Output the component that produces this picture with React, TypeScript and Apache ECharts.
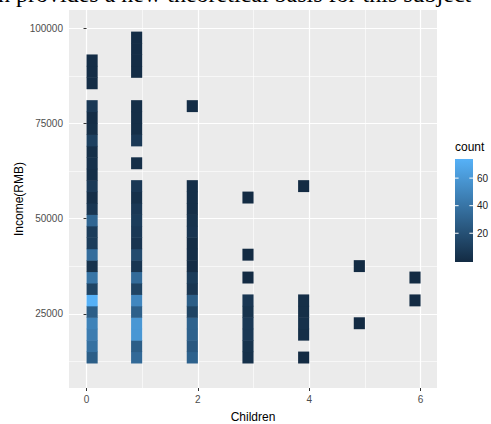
import React, { useEffect, useRef } from "react";
import * as echarts from "echarts";

// ---- data ----
const childrenValues = [0, 1, 2, 3, 4, 5, 6];
// counts per income bin (bin 0 = 12000–15000, each bin 3000 wide), bottom to top
const countsChild0 = [28, 38, 44, 47, 28, 72, 14, 40, 5, 36, 10, 10, 32, 7, 3, 9, 3, 4, 3, 12, 3, 2, 8, 0, 2, 2, 2, 0, 0];
const countsChild1 = [34, 28, 58, 58, 29, 50, 14, 35, 7, 18, 6, 8, 10, 8, 4, 8, 0, 3, 0, 8, 3, 3, 3, 0, 0, 2, 2, 2, 2];
const countsChild2 = [30, 25, 30, 30, 14, 28, 7, 10, 2, 3, 2, 6, 5, 3, 3, 3, 0, 0, 0, 0, 0, 0, 2];
const countsChild3 = [4, 5, 8, 8, 5, 7, 0, 1, 0, 1, 0, 0, 0, 0, 1];
const countsChild4 = [1, 0, 3, 4, 3, 3, 0, 0, 0, 0, 0, 0, 0, 0, 0, 1];
const countsChild5 = [0, 0, 0, 1, 0, 0, 0, 0, 1];
const countsChild6 = [0, 0, 0, 0, 0, 1, 0, 1];
const allCounts = [countsChild0, countsChild1, countsChild2, countsChild3, countsChild4, countsChild5, countsChild6];

const xTicks = [0, 2, 4, 6];
const xMinor = [1, 3, 5];
const yTicks = [25000, 50000, 75000, 100000];
const yMinor = [12500, 37500, 62500, 87500];
const legendTicks = [20, 40, 60];
const countMin = 1;
const countMax = 72;

const X_BIN_W = 0.2;
const Y_BIN_START = 12000;
const Y_BIN_W = 3000;

const topText = "h provides a new theoretical basis for this subject";

export default function App() {
  const ref = useRef<HTMLDivElement>(null);
  useEffect(() => {
    if (!ref.current) return;
    const chart = echarts.init(ref.current, null, { renderer: "svg" });
    const cells: number[][] = [];
    childrenValues.forEach((c, ci) => {
      allCounts[ci].forEach((n, k) => {
        if (n > 0) cells.push([c, k, n]);
      });
    });

    const barX = 455, barY = 159, barW = 18, barH = 103;
    const legendY = (v: number) =>
      barY + barH - (0.025 + (0.95 * (v - countMin)) / (countMax - countMin)) * barH;

    const font = "Liberation Sans, Arial, sans-serif";
    const graphics: any[] = [
      {
        type: "text",
        left: -2,
        top: -18,
        style: { text: topText, font: "24px 'Liberation Serif', 'Times New Roman', serif", fill: "#000" },
      },
      {
        type: "text",
        x: barX,
        y: 147,
        style: { text: "count", fontSize: 12, fontFamily: font, fill: "#000", verticalAlign: "middle" },
      },
      {
        type: "rect",
        shape: { x: barX, y: barY, width: barW, height: barH },
        style: {
          fill: new echarts.graphic.LinearGradient(0, 0, 0, 1, [
            { offset: 0, color: "#56B1F7" },
            { offset: 1, color: "#132B43" },
          ]),
        },
      },
    ];
    legendTicks.forEach((t) => {
      const y = legendY(t);
      graphics.push({
        type: "line",
        shape: { x1: barX, y1: y, x2: barX + 3.6, y2: y },
        style: { stroke: "#fff", lineWidth: 1 },
      });
      graphics.push({
        type: "line",
        shape: { x1: barX + barW - 3.6, y1: y, x2: barX + barW, y2: y },
        style: { stroke: "#fff", lineWidth: 1 },
      });
      graphics.push({
        type: "text",
        x: barX + barW + 4,
        y,
        style: { text: String(t), fontSize: 10, fontFamily: font, fill: "#222", verticalAlign: "middle" },
      });
    });

    const xMin = -0.315, xMax = 6.295, yMin = 5565, yMax = 104804;

    chart.setOption({
      animation: false,
      backgroundColor: "#fff",
      grid: {
        left: 69,
        top: 10,
        width: 368,
        height: 378,
        show: true,
        backgroundColor: "#EBEBEB",
        borderWidth: 0,
        containLabel: false,
        outerBoundsMode: "none",
      },
      xAxis: [
        {
          type: "value",
          min: xMin,
          max: xMax,
          axisLine: { show: false },
          axisTick: { show: true, length: 3, lineStyle: { color: "#333", width: 1 }, customValues: xTicks },
          axisLabel: { customValues: xTicks, color: "#4D4D4D", fontSize: 10, fontFamily: font, margin: 6 },
          splitLine: { show: true, lineStyle: { color: "#fff", width: 1.2 } },
          name: "Children",
          nameLocation: "middle",
          nameGap: 23,
          nameTextStyle: { color: "#000", fontSize: 12, fontFamily: font },
        },
        {
          type: "value",
          min: xMin,
          max: xMax,
          position: "bottom",
          axisLine: { show: false },
          axisTick: { show: false, customValues: xMinor },
          axisLabel: { show: false, customValues: xMinor },
          splitLine: { show: true, lineStyle: { color: "#fff", width: 0.6 } },
        },
      ],
      yAxis: [
        {
          type: "value",
          min: yMin,
          max: yMax,
          axisLine: { show: false },
          axisTick: { show: true, length: 3, lineStyle: { color: "#333", width: 1 }, customValues: yTicks },
          axisLabel: {
            customValues: yTicks,
            color: "#4D4D4D",
            fontSize: 10,
            fontFamily: font,
            margin: 6,
            formatter: (v: number) => String(v),
          },
          splitLine: { show: true, lineStyle: { color: "#fff", width: 1.2 } },
          name: "Income(RMB)",
          nameLocation: "middle",
          nameRotate: 90,
          nameGap: 44,
          nameMoveOverlap: false,
          nameTextStyle: { color: "#000", fontSize: 12, fontFamily: font },
        },
        {
          type: "value",
          min: yMin,
          max: yMax,
          position: "left",
          axisLine: { show: false },
          axisTick: { show: false, customValues: yMinor },
          axisLabel: { show: false, customValues: yMinor },
          splitLine: { show: true, lineStyle: { color: "#fff", width: 0.6 } },
        },
      ],
      visualMap: {
        show: false,
        type: "continuous",
        dimension: 2,
        min: countMin,
        max: countMax,
        seriesIndex: 0,
        inRange: { color: ["#132B43", "#56B1F7"] },
      },
      series: [
        {
          type: "custom",
          xAxisIndex: 0,
          yAxisIndex: 0,
          encode: { x: 0, y: 1 },
          data: cells,
          renderItem: (params: any, api: any) => {
            const c = api.value(0);
            const k = api.value(1);
            const x0 = c === 0 ? 0 : c - X_BIN_W;
            const x1 = x0 + X_BIN_W;
            const y0 = Y_BIN_START + k * Y_BIN_W;
            const y1 = y0 + Y_BIN_W;
            const p0 = api.coord([x0, y1]);
            const p1 = api.coord([x1, y0]);
            const color = api.visual("color");
            return {
              type: "rect",
              shape: { x: p0[0], y: p0[1] - 0.5, width: p1[0] - p0[0], height: p1[1] - p0[1] + 0.5 },
              style: { fill: color, stroke: null, lineWidth: 0 },
            };
          },
        },
      ],
      graphic: graphics,
    });
    return () => chart.dispose();
  }, []);
  return <div ref={ref} style={{ position: "fixed", left: 0, top: 0, width: 491, height: 424 }} />;
}
